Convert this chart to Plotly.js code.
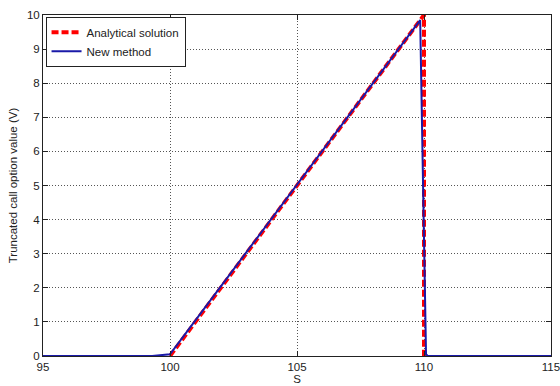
<!DOCTYPE html>
<html>
<head>
<meta charset="utf-8">
<script src="https://cdn.plot.ly/plotly-3.0.1.min.js"></script>
<style>html,body{margin:0;padding:0;background:#fff;}#chart{width:560px;height:386px;}</style>
</head>
<body>
<div id="chart"></div>
<script>
// Analytical truncated call payoff: S-100 between the strikes 100 and 110, dropping to zero at 110
const analyticalS = [100, 110, 110];
const analyticalV = [0, 10, 0];

// Numerical result from the new method
const newMethodS = [95, 99.3, 100, 109.85, 110.08, 110.15, 115];
const newMethodV = [0, 0, 0.05, 9.85, 0.05, 0, 0];

const xTicks = [95, 100, 105, 110, 115];
const yTicks = [0, 1, 2, 3, 4, 5, 6, 7, 8, 9, 10];

const traces = [
  {
    x: analyticalS, y: analyticalV, type: 'scatter', mode: 'lines',
    name: 'Analytical solution',
    line: {color: '#ff0000', width: 4, dash: '7px,3px'}
  },
  {
    x: newMethodS, y: newMethodV, type: 'scatter', mode: 'lines',
    name: 'New method',
    line: {color: '#1a1aa8', width: 2}
  }
];

const font = {family: 'Liberation Sans, Arial, sans-serif', size: 11.5, color: '#222'};

const axisCommon = {
  showline: true, mirror: 'ticks', linecolor: '#222', linewidth: 1,
  ticks: 'inside', ticklen: 5, tickcolor: '#222',
  showgrid: true, gridcolor: '#555', griddash: '1px,2px', gridwidth: 1,
  zeroline: false,
  tickfont: font,
  ticklabeloverflow: 'allow'
};

const layout = {
  width: 560, height: 386,
  margin: {l: 43, r: 9, t: 15, b: 30},
  paper_bgcolor: '#fff', plot_bgcolor: '#fff',
  showlegend: true,
  legend: {
    x: 0.005, y: 0.995, xanchor: 'left', yanchor: 'top',
    bgcolor: '#fff', bordercolor: '#222', borderwidth: 1,
    font: font,
    tracegroupgap: 0, itemwidth: 30
  },
  xaxis: Object.assign({}, axisCommon, {
    range: [95, 115], tickvals: xTicks,
    title: {text: 'S', standoff: 2, font: font}
  }),
  yaxis: Object.assign({}, axisCommon, {
    range: [0, 10], tickvals: yTicks,
    title: {text: 'Truncated call option value (V)', standoff: 6, font: font}
  })
};

Plotly.newPlot('chart', traces, layout, {displayModeBar: false, staticPlot: true});
</script>
</body>
</html>
